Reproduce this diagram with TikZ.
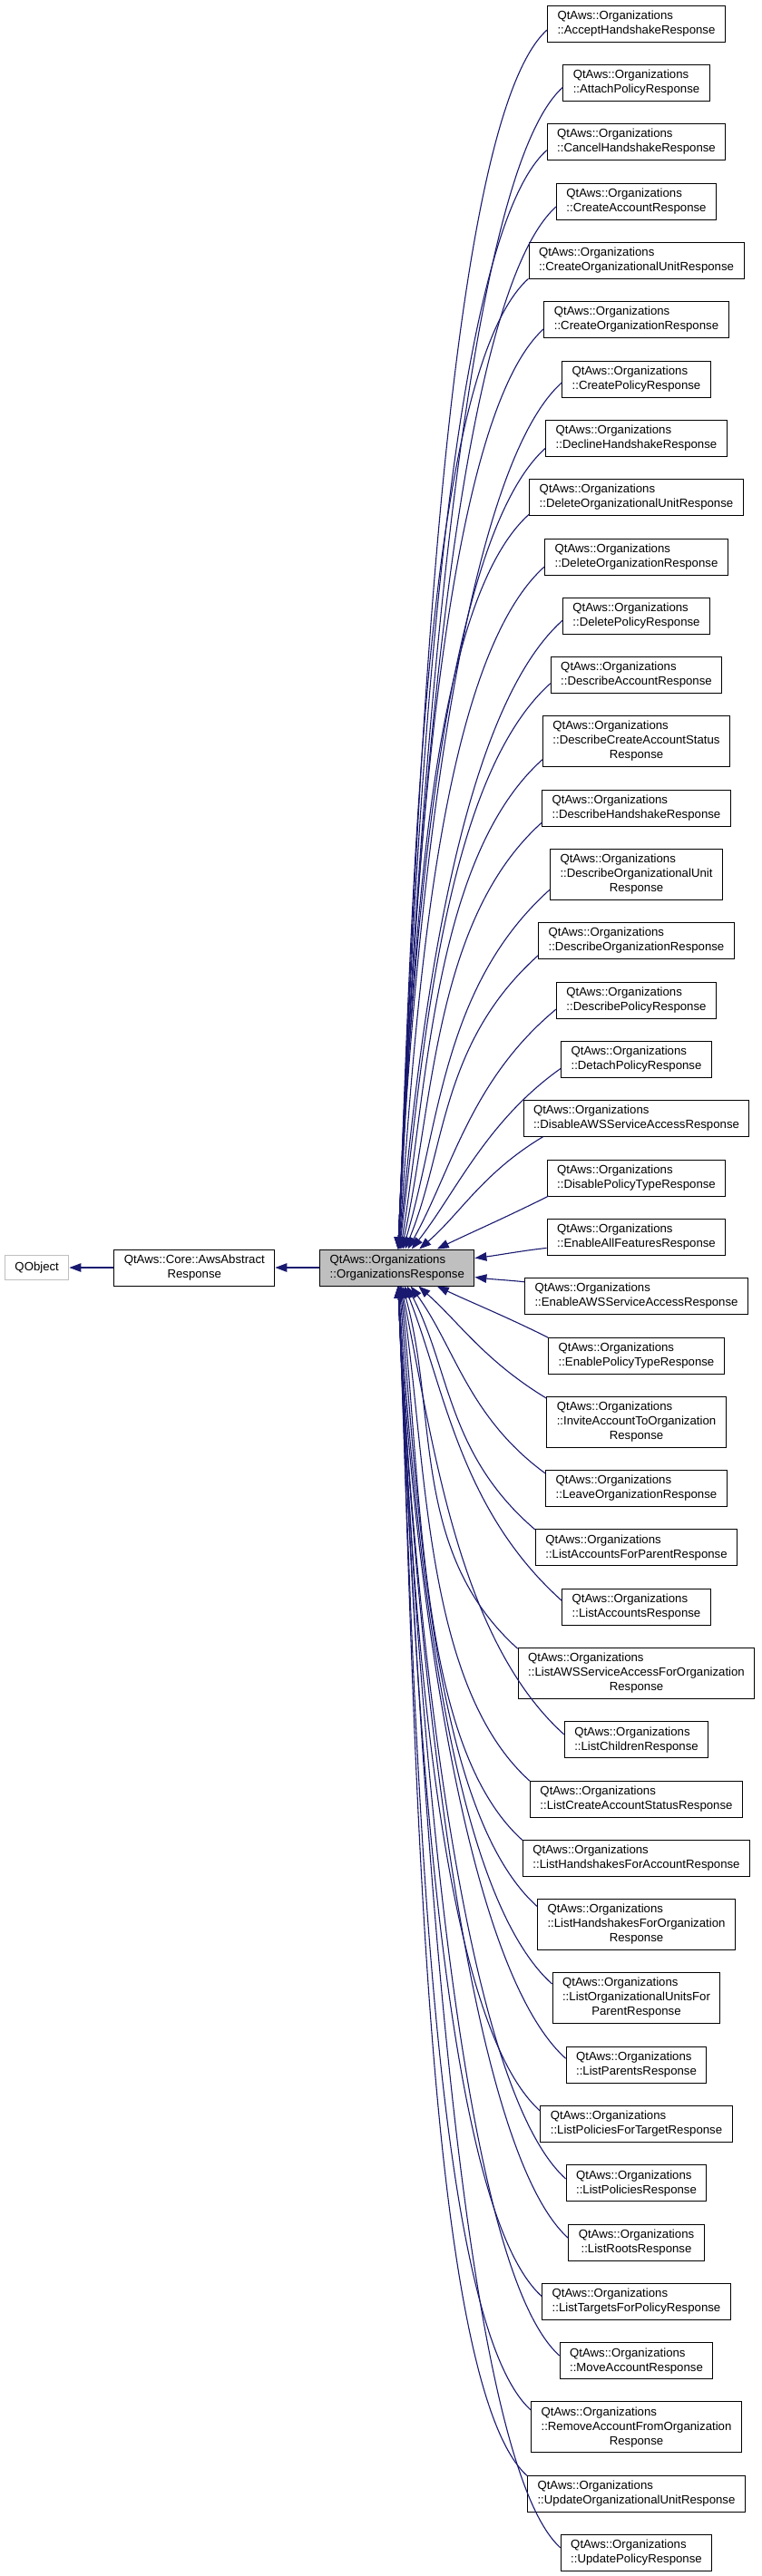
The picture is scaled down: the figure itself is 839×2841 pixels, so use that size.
\documentclass[tikz,border=0pt]{standalone}
\usepackage{fontspec}
\setmainfont{Liberation Sans}
\usetikzlibrary{arrows.meta,calc}
\definecolor{edgeblue}{HTML}{191970}
\definecolor{nodegray}{HTML}{BFBFBF}
\newcommand\qtwo[1]{\begin{tabular}{@{}l@{}}QtAws::Organizations\\\multicolumn{1}{@{}c@{}}{#1}\end{tabular}}
\newcommand\qthree[2]{\begin{tabular}{@{}l@{}}QtAws::Organizations\\#1\\\multicolumn{1}{@{}c@{}}{#2}\end{tabular}}
\begin{document}
\begin{tikzpicture}[x=1pt,y=1pt,
  box/.style={draw=black, line width=1pt, inner xsep=11pt, inner ysep=4pt, fill=white,
    font=\fontsize{13.2}{16}\selectfont},
  inh/.style={draw=edgeblue, line width=1.1pt, {Triangle[length=13pt,width=9.5pt]}-},
]
\useasboundingbox (0,0) rectangle (839,-2841);

% left column
\node[box, draw=nodegray, minimum height=27pt] (qobj) at (40.7,-1398) {QObject};
\node[box] (aws) at (214.3,-1398) {\begin{tabular}{@{}l@{}}QtAws::Core::AwsAbstract\\\multicolumn{1}{@{}c@{}}{Response}\end{tabular}};
\node[box, fill=nodegray] (parent) at (437.8,-1398) {\qtwo{::OrganizationsResponse}};

% children
\node[box] (c1) at (701.5,-26) {\qtwo{::AcceptHandshakeResponse}};
\node[box] (c2) at (701.5,-91.33) {\qtwo{::AttachPolicyResponse}};
\node[box] (c3) at (701.5,-156.67) {\qtwo{::CancelHandshakeResponse}};
\node[box] (c4) at (701.5,-222) {\qtwo{::CreateAccountResponse}};
\node[box] (c5) at (701.5,-287.33) {\qtwo{::CreateOrganizationalUnitResponse}};
\node[box] (c6) at (701.5,-352.67) {\qtwo{::CreateOrganizationResponse}};
\node[box] (c7) at (701.5,-418) {\qtwo{::CreatePolicyResponse}};
\node[box] (c8) at (701.5,-483.33) {\qtwo{::DeclineHandshakeResponse}};
\node[box] (c9) at (701.5,-548.67) {\qtwo{::DeleteOrganizationalUnitResponse}};
\node[box] (c10) at (701.5,-614) {\qtwo{::DeleteOrganizationResponse}};
\node[box] (c11) at (701.5,-679.33) {\qtwo{::DeletePolicyResponse}};
\node[box] (c12) at (701.5,-744.67) {\qtwo{::DescribeAccountResponse}};
\node[box] (c13) at (701.5,-817.65) {\qthree{::DescribeCreateAccountStatus}{Response}};
\node[box] (c14) at (701.5,-891.2) {\qtwo{::DescribeHandshakeResponse}};
\node[box] (c15) at (701.5,-964.18) {\qthree{::DescribeOrganizationalUnit}{Response}};
\node[box] (c16) at (701.5,-1037.73) {\qtwo{::DescribeOrganizationResponse}};
\node[box] (c17) at (701.5,-1103.07) {\qtwo{::DescribePolicyResponse}};
\node[box] (c18) at (701.5,-1168.4) {\qtwo{::DetachPolicyResponse}};
\node[box] (c19) at (701.5,-1233.73) {\qtwo{::DisableAWSServiceAccessResponse}};
\node[box] (c20) at (701.5,-1299.07) {\qtwo{::DisablePolicyTypeResponse}};
\node[box] (c21) at (701.5,-1364.4) {\qtwo{::EnableAllFeaturesResponse}};
\node[box] (c22) at (701.5,-1429.73) {\qtwo{::EnableAWSServiceAccessResponse}};
\node[box] (c23) at (701.5,-1495.07) {\qtwo{::EnablePolicyTypeResponse}};
\node[box] (c24) at (701.5,-1568.05) {\qthree{::InviteAccountToOrganization}{Response}};
\node[box] (c25) at (701.5,-1641.6) {\qtwo{::LeaveOrganizationResponse}};
\node[box] (c26) at (701.5,-1706.93) {\qtwo{::ListAccountsForParentResponse}};
\node[box] (c27) at (701.5,-1772.27) {\qtwo{::ListAccountsResponse}};
\node[box] (c28) at (701.5,-1845.25) {\qthree{::ListAWSServiceAccessForOrganization}{Response}};
\node[box] (c29) at (701.5,-1918.8) {\qtwo{::ListChildrenResponse}};
\node[box] (c30) at (701.5,-1984.13) {\qtwo{::ListCreateAccountStatusResponse}};
\node[box] (c31) at (701.5,-2049.47) {\qtwo{::ListHandshakesForAccountResponse}};
\node[box] (c32) at (701.5,-2122.45) {\qthree{::ListHandshakesForOrganization}{Response}};
\node[box] (c33) at (701.5,-2203.65) {\qthree{::ListOrganizationalUnitsFor}{ParentResponse}};
\node[box] (c34) at (701.5,-2277.2) {\qtwo{::ListParentsResponse}};
\node[box] (c35) at (701.5,-2342.53) {\qtwo{::ListPoliciesForTargetResponse}};
\node[box] (c36) at (701.5,-2407.87) {\qtwo{::ListPoliciesResponse}};
\node[box] (c37) at (701.5,-2473.2) {\qtwo{::ListRootsResponse}};
\node[box] (c38) at (701.5,-2538.53) {\qtwo{::ListTargetsForPolicyResponse}};
\node[box] (c39) at (701.5,-2603.87) {\qtwo{::MoveAccountResponse}};
\node[box] (c40) at (701.5,-2676.85) {\qthree{::RemoveAccountFromOrganization}{Response}};
\node[box] (c41) at (701.5,-2750.4) {\qtwo{::UpdateOrganizationalUnitResponse}};
\node[box] (c42) at (701.5,-2815.73) {\qtwo{::UpdatePolicyResponse}};

% left connectors
\draw[inh] (qobj) -- (aws);
\draw[inh] (aws) -- (parent);

% child connectors
\foreach \n/\d/\ox/\oy in {
  c1/-1372/0/-7, c2/-1306.7/0/-5, c3/-1241.3/0/-9, c4/-1176/0/-6,
  c5/-1110.7/0/-20, c6/-1045.3/0/-10, c7/-980/0/-4, c8/-914.7/0/-11,
  c9/-849.3/0/-18.5, c10/-784/0/-11, c11/-718.7/0/-5, c12/-653.3/0/-9,
  c13/-580.4/0/-20, c14/-506.8/0/-16, c15/-433.8/0/-17, c16/-360.3/0/-16,
  c17/-294.9/0/-10, c18/-229.6/0/-10, c19/-164.3/22/-20, c20/-98.9/2/-20,
  c23/97.1/0/20, c24/170/0/26, c25/243.6/0/16.6, c26/308.9/0/20,
  c27/374.3/0/7, c28/447.3/0/27, c29/520.8/0/6, c30/586.1/0/20,
  c31/651.5/0/20, c32/724.5/0/20, c33/805.7/0/15.6, c34/879.2/0/7,
  c35/944.5/0/14.5, c36/1009.9/0/5, c37/1075.2/0/5, c38/1140.5/0/6,
  c39/1205.9/0/6, c40/1278.9/0/19, c41/1352.4/0/20, c42/1417.7/0/6}{
  \pgfmathsetmacro\eAd{abs(\d)}
  \pgfmathsetmacro\eSg{(\d<0) ? 1 : -1}
  \pgfmathsetmacro\eTh{min(87.5,90-64*exp(-(\eAd-99)/250))}
  \pgfmathsetmacro\eAr{min(42,20+\eAd/15)}
  \pgfmathsetmacro\eOu{\eSg*\eTh}
  \pgfmathsetmacro\eIa{180+\eSg*\eAr}
  \pgfmathsetmacro\eLa{0.3*\eAd+10}
  \pgfmathsetmacro\eLb{min(160,0.35*\eAd+20)}
  \coordinate (s\n) at (parent.\eOu);
  \coordinate (e\n) at ($(\n.west)+(\ox,\oy)$);
  \draw[inh] (s\n) .. controls ($(s\n)+(\eOu:\eLa pt)$) and ($(e\n)+(\eIa:\eLb pt)$) .. (e\n);
}
\coordinate (s21) at (parent.7);
\coordinate (e21) at ($(c21.west)+(0,-12)$);
\draw[inh] (s21) .. controls ($(s21)+(7:25pt)$) and ($(e21)+(186:25pt)$) .. (e21);
\coordinate (s22) at (parent.-7);
\coordinate (e22) at ($(c22.west)+(0,16)$);
\draw[inh] (s22) .. controls ($(s22)+(-7:20pt)$) and ($(e22)+(174:20pt)$) .. (e22);
\end{tikzpicture}
\end{document}
